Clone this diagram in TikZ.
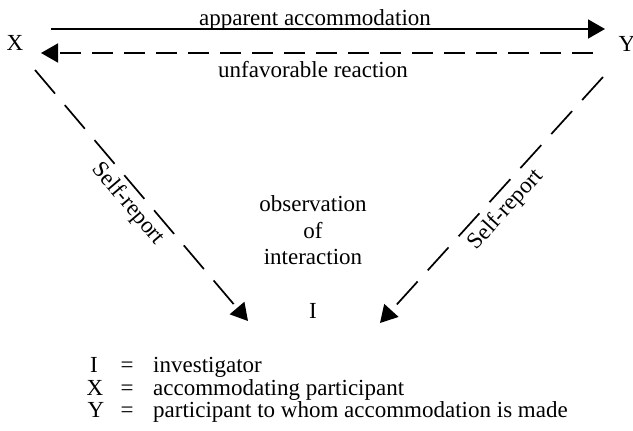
\documentclass[tikz,border=0pt]{standalone}
\usepackage{fontspec}
\setmainfont{Liberation Serif}
\usetikzlibrary{arrows.meta}
\begin{document}
\begin{tikzpicture}[x=1pt,y=-1pt,
  txt/.style={inner sep=0pt, anchor=base, font=\fontsize{23}{27}\selectfont},
  ltxt/.style={inner sep=0pt, anchor=base west, font=\fontsize{23}{27}\selectfont},
  conn/.style={line width=1.7pt, -{Triangle[length=17pt,width=19pt]}},
  hdash/.style={dash pattern=on 21pt off 11pt},
  ddash/.style={dash pattern=on 31pt off 15pt}]
\useasboundingbox (0,0) rectangle (633,431);
% participants
\node[txt] (X) at (15,50) {X};
\node[txt] (Y) at (627,52) {Y};
\node[txt] (I) at (313,318) {I};
% connector ends
\coordinate (a1) at (51,29);
\coordinate (a2) at (605,29);
\coordinate (b1) at (593,53);
\coordinate (b2) at (41,53);
\coordinate (c1) at (35,70);
\coordinate (c2) at (248,321);
\coordinate (d1) at (603,77);
\coordinate (d2) at (380,323);
% connectors
\draw[conn] (a1) -- (a2);
\draw[conn,hdash] (b1) -- (b2);
\draw[conn,ddash] (c1) -- (c2);
\draw[conn,ddash] (d1) -- (d2);
% labels
\node[txt] (app) at (315,25) {apparent accommodation};
\node[txt] (unf) at (313,77) {unfavorable reaction};
\node[txt,anchor=center,rotate=-49.7] (sr1) at (128,204) {Self-report};
\node[txt,anchor=center,rotate=47.8] (sr2) at (506,210) {Self-report};
\node[txt] (obs1) at (313,211.5) {observation};
\node[txt] (obs2) at (313,238) {of};
\node[txt] (obs3) at (313,264) {interaction};
% legend
\node[txt] (lI) at (94,372) {I};
\node[txt] (lX) at (95,395) {X};
\node[txt] (lY) at (96,417) {Y};
\node[txt] (e1) at (127,372) {=};
\node[txt] (e2) at (127,395) {=};
\node[txt] (e3) at (127,417) {=};
\node[ltxt] (t1) at (153,372) {investigator};
\node[ltxt] (t2) at (153,395) {accommodating participant};
\node[ltxt] (t3) at (153,417) {participant to whom accommodation is made};
\end{tikzpicture}
\end{document}
